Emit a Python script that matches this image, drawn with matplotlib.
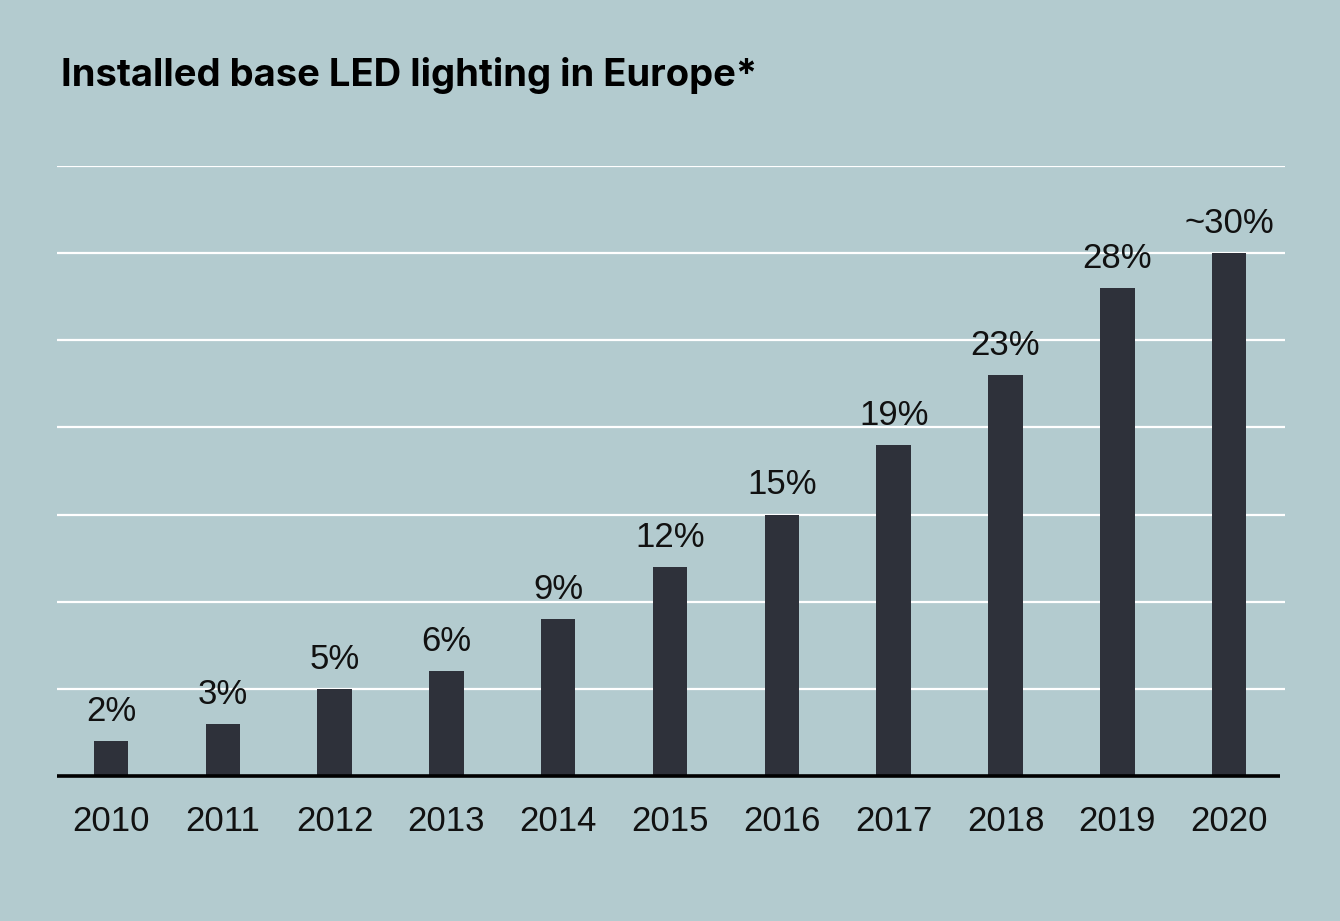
import matplotlib.pyplot as plt

years = ['2010', '2011', '2012', '2013', '2014', '2015',
         '2016', '2017', '2018', '2019', '2020']
share = [2, 3, 5, 6, 9, 12, 15, 19, 23, 28, 30]
labels = ['2%', '3%', '5%', '6%', '9%', '12%', '15%', '19%', '23%', '28%', '~30%']

bg = '#b3cbcf'
bar_color = '#2e313a'
label_font = 'Liberation Sans'

fig = plt.figure(figsize=(13.4, 9.21), dpi=100, facecolor=bg)
ax = fig.add_axes([0.0425, 0.1574, 0.9165, 0.6624])
ax.set_facecolor(bg)

x = range(len(years))
ax.bar(x, share, width=0.308, color=bar_color, zorder=3)

for xi, v, lab in zip(x, share, labels):
    ax.annotate(lab, (xi, v), xytext=(0, 14.5), textcoords='offset points',
                ha='center', va='baseline', fontsize=25,
                family=label_font, color='#111111')

# white gridlines every 5 %, black baseline
for y in range(5, 40, 5):
    ax.axhline(y, color='white', lw=1.6, zorder=1)
ax.plot([-0.483, 10.455], [0, 0], color='black', lw=2.6, zorder=4,
        solid_capstyle='butt', clip_on=False)

ax.set_xlim(-0.483, 10.5)
ax.set_ylim(0, 35)
ax.set_xticks(list(x))
ax.set_xticklabels(years, fontsize=25, family=label_font, color='#111111')
ax.tick_params(axis='x', length=0, pad=21)
ax.set_yticks([])
for s in ax.spines.values():
    s.set_visible(False)

fig.text(0.0455, 0.9066, 'Installed base LED lighting in Europe*',
         fontsize=27.5, fontweight='bold', family='Inter', color='black',
         ha='left', va='baseline')

fig.savefig('out.png', dpi=100, facecolor=bg)
